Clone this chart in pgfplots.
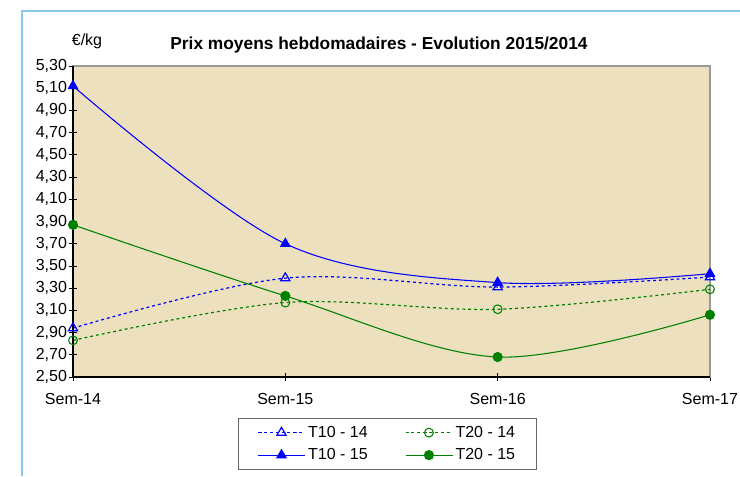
\documentclass[border=0pt]{standalone}
\usepackage{pgfplots}
\pgfplotsset{compat=1.18}
\usepackage{fontspec}
\setmainfont{Liberation Sans}
\definecolor{sand}{RGB}{237,224,191}
\definecolor{edgeblue}{RGB}{140,200,235}
\definecolor{dgreen}{RGB}{0,128,0}
\begin{document}
\begin{tikzpicture}[x=0.75pt,y=0.75pt]
\useasboundingbox (-73,-99) rectangle (667,377);
\draw[edgeblue,line width=1.5] (-51,-99) -- (-51,366) -- (667,366);
\begin{axis}[
  at={(0,0)}, anchor=south west,
  scale only axis, width=477.75pt, height=233.25pt,
  xmin=0, xmax=3, ymin=2.5, ymax=5.3,
  xtick={0,1,2,3}, xticklabels={Sem-14,Sem-15,Sem-16,Sem-17},
  ytick={2.5,2.7,...,5.31},
  xtick pos=bottom, ytick pos=left,
  tick align=center, major tick length=6pt,
  tick style={black, line width=0.6pt},
  ticklabel style={font=\fontsize{12}{14}\selectfont},
  xticklabel style={yshift=-6pt},
  yticklabel style={xshift=2pt},
  /pgf/number format/.cd, use comma, fixed, fixed zerofill, precision=2, assume math mode=true,
  /pgfplots/.cd,
  axis background/.style={fill=sand},
  axis line style={draw=gray!80, line width=0.8pt},
  legend columns=2,
  legend style={at={(0.494,-0.215)}, anchor=center, draw=gray!80!black, line width=0.6pt,
    font=\fontsize{12}{14}\selectfont, inner xsep=14pt, inner ysep=4pt,
    /tikz/every even column/.append style={column sep=26pt},
    row sep=3pt},
  legend image code/.code={%
    \draw[#1, mark repeat=2, mark phase=2] plot coordinates {(0pt,0pt) (17.5pt,0pt) (35pt,0pt)};},
  clip=false,
]
\addplot[blue, line width=0.9pt, dash pattern=on 2.2pt off 2.2pt, smooth, tension=0.55,
  mark=triangle, mark size=4pt, mark options={solid, fill=white, line width=0.9pt}]
  coordinates {(0,2.94) (1,3.39) (2,3.31) (3,3.40)};
\addlegendentry{T10 - 14}
\addplot[dgreen, line width=0.9pt, dash pattern=on 2.2pt off 2.2pt, smooth, tension=0.55,
  mark=o, mark size=3.3pt, mark options={solid, line width=0.8pt}]
  coordinates {(0,2.83) (1,3.17) (2,3.11) (3,3.29)};
\addlegendentry{T20 - 14}
\addplot[blue, line width=0.8pt, smooth, tension=0.55,
  mark=triangle*, mark size=4pt, mark options={solid, fill=blue}]
  coordinates {(0,5.12) (1,3.70) (2,3.35) (3,3.43)};
\addlegendentry{T10 - 15}
\addplot[dgreen, line width=0.8pt, smooth, tension=0.55,
  mark=*, mark size=3.4pt, mark options={solid, fill=dgreen}]
  coordinates {(0,3.87) (1,3.23) (2,2.68) (3,3.06)};
\addlegendentry{T20 - 15}
\draw[black, line width=0.8pt] (rel axis cs:0,1) -- (rel axis cs:0,0) -- (rel axis cs:1,0);
\end{axis}
\node[font=\fontsize{12}{14}\selectfont] at (14,336) {€/kg};
\node[font=\fontsize{13}{15}\selectfont\bfseries] at (306,332) {Prix moyens hebdomadaires - Evolution 2015/2014};
\end{tikzpicture}
\end{document}
